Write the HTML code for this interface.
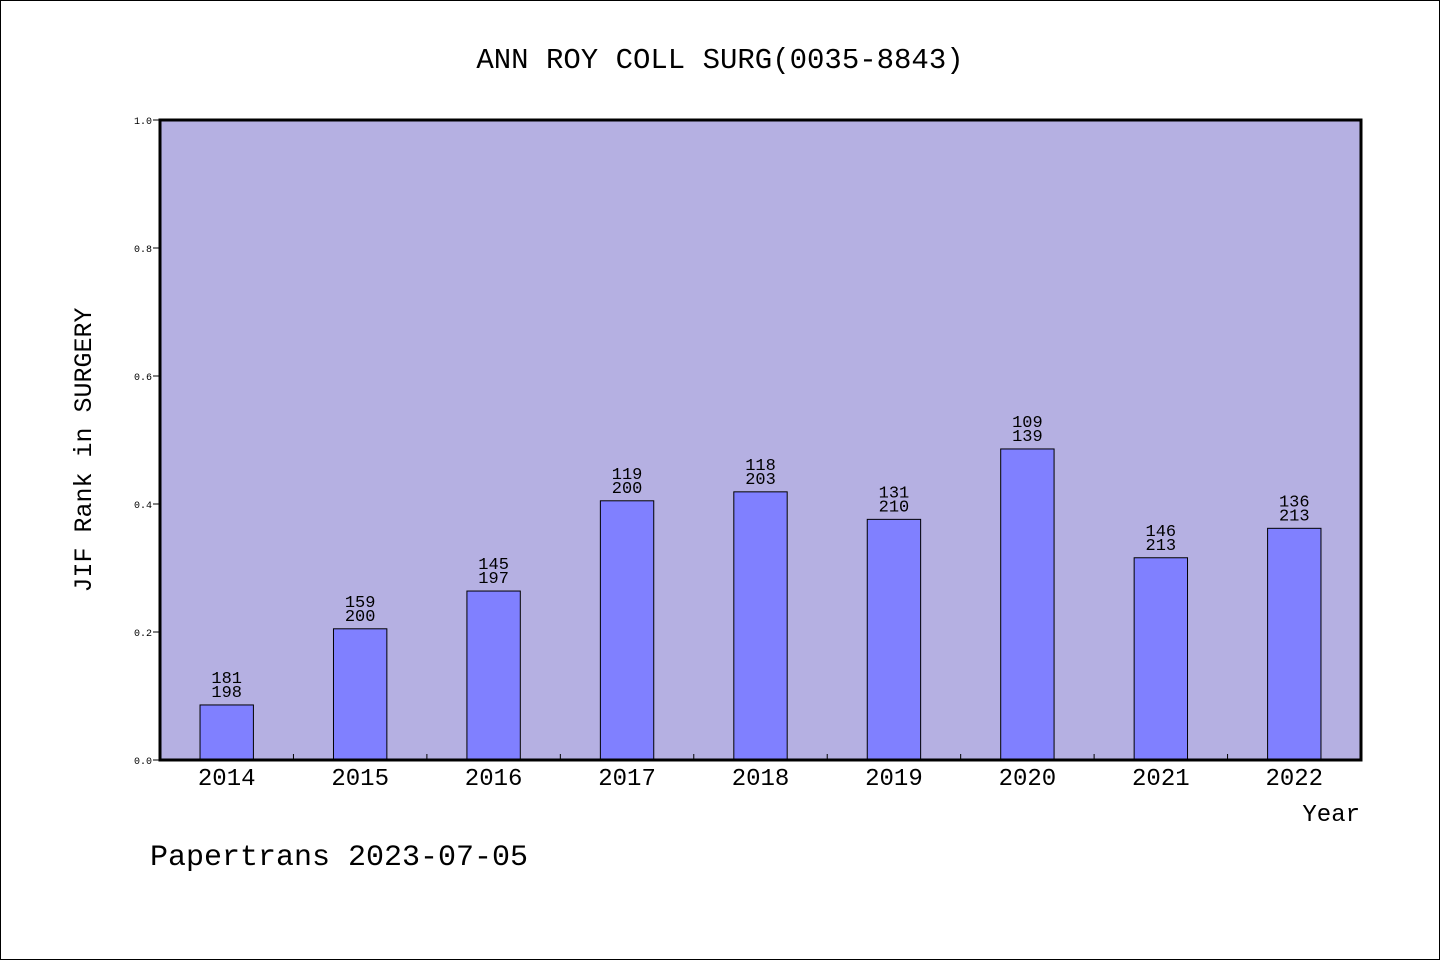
<!DOCTYPE html>
<html><head><meta charset="utf-8"><style>
body{margin:0;background:#fff}
#wrap{position:relative;width:1438px;height:958px;border:1px solid #000;background:#fff;overflow:hidden}
svg text{font-family:"Liberation Mono","WenQuanYi Zen Hei",monospace;fill:#000}
</style></head><body>
<div id="wrap">
<svg id="chart" width="1438" height="958">
<text x="719" y="67" font-size="29" text-anchor="middle">ANN ROY COLL SURG(0035-8843)</text>
<text transform="translate(90,449) rotate(-90)" font-size="25" text-anchor="middle">JIF Rank in SURGERY</text>
<text x="1359" y="820" font-size="24" text-anchor="end">Year</text>
<text x="149" y="864" font-size="30">Papertrans 2023-07-05</text>
</svg>
</div>
<script>
const years=["2014","2015","2016","2017","2018","2019","2020","2021","2022"];
const values=[0.086,0.205,0.264,0.405,0.419,0.376,0.486,0.316,0.362];
const ranks=["181","159","145","119","118","131","109","146","136"];
const totals=["198","200","197","200","203","210","139","213","213"];
const yTicks=[0,0.2,0.4,0.6,0.8,1.0];
const svg=document.getElementById('chart');
const NS='http://www.w3.org/2000/svg';
const L=159,R=1360,T=119,B=759;
const xStep=(R-L)/years.length;
const xc=i=>L+xStep*(i+0.5);
const y=v=>B-(B-T)*v;
function mk(tag,attrs){const e=document.createElementNS(NS,tag);for(const k in attrs)e.setAttribute(k,attrs[k]);svg.appendChild(e);return e;}
const bg=mk('rect',{x:L,y:T,width:R-L,height:B-T,fill:'#b5b0e2'});


yTicks.forEach(t=>{
 const tk=mk('line',{x1:L-7,x2:L,y1:y(t),y2:y(t),stroke:'#000','stroke-width':1});
 
 
 const tl=mk('text',{x:L-8,y:y(t)+4,'font-size':10,'text-anchor':'end'});
 tl.textContent=t.toFixed(1);
 
 
});
years.forEach((yr,i)=>{
 const bw=xStep*0.4,v=values[i];
 const b=mk('rect',{x:xc(i)-bw/2,y:y(v),width:bw,height:B-y(v),fill:'#8080ff',stroke:'#000','stroke-width':1});
 
 
 const t1=mk('text',{x:xc(i),y:y(v)-22,'font-size':17,'text-anchor':'middle'});
 t1.textContent=ranks[i];
 
 
 const t2=mk('text',{x:xc(i),y:y(v)-8,'font-size':17,'text-anchor':'middle'});
 t2.textContent=totals[i];
 
 
 const xl=mk('text',{x:xc(i),y:B+25,'font-size':24,'text-anchor':'middle'});
 xl.textContent=yr;
 
 
 if(i>0){
  const tk=mk('line',{x1:L+xStep*i,x2:L+xStep*i,y1:B-6,y2:B,stroke:'#000','stroke-width':1});
  
  
 }
});
const fr=mk('rect',{x:L,y:T,width:R-L,height:B-T,fill:'none',stroke:'#000','stroke-width':3});


</script>
</body></html>
